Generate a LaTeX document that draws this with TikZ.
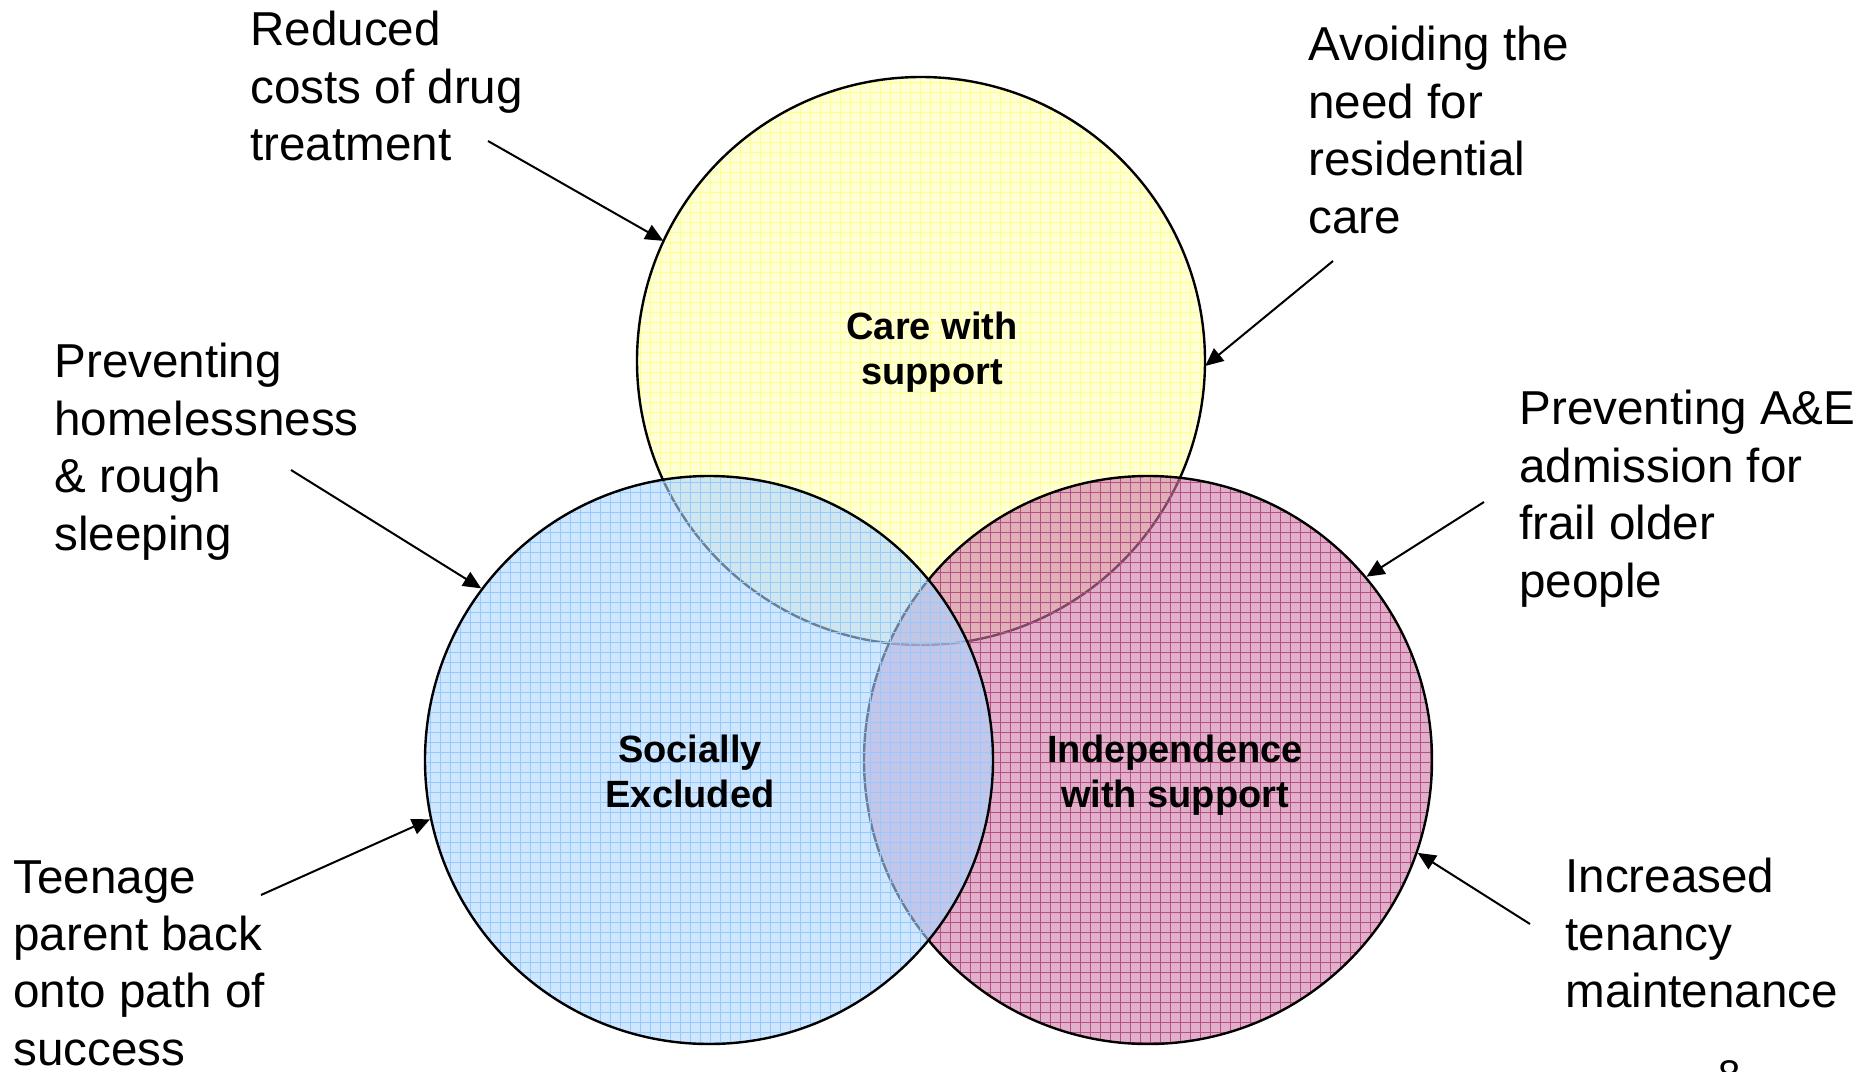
\documentclass[tikz,border=0pt]{standalone}
\usepackage{fontspec}
\setmainfont{Liberation Sans}
\usetikzlibrary{arrows.meta,patterns.meta}

\definecolor{careFill}{RGB}{255,255,185}
\definecolor{careGrid}{RGB}{255,255,140}
\definecolor{socFill}{RGB}{175,214,255}
\definecolor{socGrid}{RGB}{150,202,255}
\definecolor{indFill}{RGB}{205,122,166}
\definecolor{indGrid}{RGB}{180,80,132}

\begin{document}
\begin{tikzpicture}[x=0.5pt, y=-0.5pt,
        venn/.style={circle, minimum size=284pt, inner sep=0pt, draw=black, line width=1.2pt,
            preaction={fill=#1Fill, fill opacity=0.6}, fill opacity=0.6,
            pattern={Hatch[angle=0, distance=5pt, line width=0.3pt]}, pattern color=#1Grid},
        hub/.style={anchor=north, align=center, inner sep=0pt,
            font=\fontsize{19}{22.5}\selectfont\bfseries},
        note/.style={anchor=north west, align=left, inner sep=0pt,
            font=\fontsize{23.8}{28.7}\selectfont},
        pointer/.style={line width=1pt, -{Triangle[length=9pt, width=8pt]}}]
    \fill[white] (0,0) rectangle (1876,1072);
    \useasboundingbox (0,0) rectangle (1876,1072);

    % the three sets, yellow at the back, blue in front
    \node[venn=care] (care) at (921,361) {};
    \node[venn=ind] (ind) at (1148,760) {};
    \node[venn=soc] (soc) at (709,760) {};

    \node[hub] (careLabel) at (932,312) {Care with\\support};
    \node[hub] (socLabel) at (690,735) {Socially\\Excluded};
    \node[hub] (indLabel) at (1175,735) {Independence\\with support};

    % outcomes round the outside
    \node[note] (drugs) at (250,11) {Reduced\\costs of drug\\treatment};
    \node[note] (residential) at (1308,26) {Avoiding the\\need for\\residential\\care};
    \node[note] (homeless) at (54,343) {Preventing\\homelessness\\\& rough\\sleeping};
    \node[note] (admission) at (1519,390) {Preventing A\&E\\admission for\\frail older\\people};
    \node[note] (teenage) at (13,860) {Teenage\\parent back\\onto path of\\success};
    \node[note] (tenancy) at (1565,858) {Increased\\tenancy\\maintenance};

    \coordinate (drugsFrom) at (488,141);
    \coordinate (residentialFrom) at (1333,261);
    \coordinate (homelessFrom) at (291,470);
    \coordinate (admissionFrom) at (1484,502);
    \coordinate (teenageFrom) at (261,895);
    \coordinate (tenancyFrom) at (1530,924);

    \draw[pointer] (drugsFrom) -- (care.155);
    \draw[pointer] (residentialFrom) -- (care.359);
    \draw[pointer] (homelessFrom) -- (soc.143);
    \draw[pointer] (admissionFrom) -- (ind.40);
    \draw[pointer] (teenageFrom) -- (soc.192);
    \draw[pointer] (tenancyFrom) -- (ind.341);

    \node[anchor=north, inner sep=0pt, font=\fontsize{20}{24}\selectfont] (pageNo) at (1730,1060) {8};
\end{tikzpicture}
\end{document}
